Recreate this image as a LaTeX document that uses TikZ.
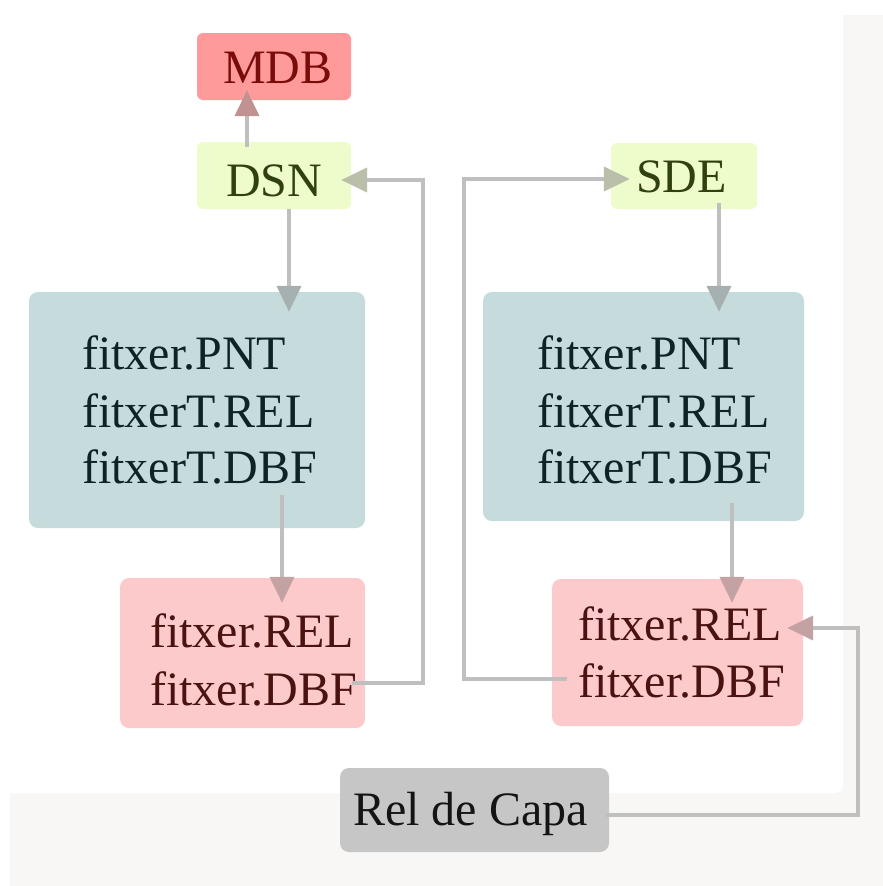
\documentclass[tikz,border=0pt]{standalone}
\usepackage{fontspec}
\setmainfont{Liberation Serif}
\usetikzlibrary{arrows.meta}
\definecolor{bgband}{HTML}{F9F6F6}
\definecolor{mdbfill}{HTML}{FF9A9A}
\definecolor{mdbtext}{HTML}{7A0B0B}
\definecolor{grnfill}{HTML}{EEFCCB}
\definecolor{grntext}{HTML}{2F420E}
\definecolor{tealfill}{HTML}{C6DBDB}
\definecolor{tealtext}{HTML}{0E2424}
\definecolor{pinkfill}{HTML}{FDCACB}
\definecolor{pinktext}{HTML}{4B1212}
\definecolor{relfill}{HTML}{C7C6C6}
\definecolor{reltext}{HTML}{141414}
\definecolor{lineclr}{HTML}{BFBFBF}
\definecolor{tipwhite}{HTML}{C0C0C0}
\definecolor{tipred}{HTML}{C09292}
\definecolor{tipteal}{HTML}{A6B0B0}
\definecolor{tippink}{HTML}{C4A2A4}
\definecolor{tipgreen}{HTML}{B9BFA8}
\begin{document}
\begin{tikzpicture}[x=1pt,y=-1pt,
  box/.style={rectangle, inner sep=0pt, draw=none},
  smallbox/.style={box, rounded corners=6pt},
  bigbox/.style={box, rounded corners=9pt},
  txt/.style={anchor=base west, inner sep=0pt, font=\fontsize{48}{57}\selectfont},
  conn/.style={draw=lineclr, line width=4pt, line join=miter},
  tipw/.style={-{Triangle[length=26pt,width=24pt,color=#1]}},
]
\useasboundingbox (0,0) rectangle (883,886);
\fill[white] (0,0) rectangle (883,886);
\fill[bgband] (10,15) rectangle (883,886);
\fill[white, rounded corners=8pt] (-20,-20) rectangle (843,793);

% boxes
\node[smallbox, fill=mdbfill, minimum width=154pt, minimum height=67pt] (mdb) at (274,66.5) {};
\node[smallbox, fill=grnfill, minimum width=154pt, minimum height=67pt] (dsn) at (274,175.5) {};
\node[smallbox, fill=grnfill, minimum width=146pt, minimum height=66pt] (sde) at (684,176) {};
\node[bigbox, fill=tealfill, minimum width=336pt, minimum height=236pt] (lteal) at (197,410) {};
\node[bigbox, fill=tealfill, minimum width=321pt, minimum height=229pt] (rteal) at (643.5,406.5) {};
\node[bigbox, fill=pinkfill, minimum width=245pt, minimum height=150pt] (lpink) at (242.5,653) {};
\node[bigbox, fill=pinkfill, minimum width=251pt, minimum height=147pt] (rpink) at (677.5,652.5) {};
\node[bigbox, fill=relfill, minimum width=269pt, minimum height=84pt] (rel) at (474.5,810) {};

% texts
\node[txt, text=mdbtext] (tmdb) at (223,83) {MDB};
\node[txt, text=grntext] (tdsn) at (226,196) {DSN};
\node[txt, text=grntext] (tsde) at (636,192) {SDE};
\node[txt, text=tealtext] (tl1) at (82,369) {fitxer.PNT};
\node[txt, text=tealtext] (tl2) at (82,427) {fitxerT.REL};
\node[txt, text=tealtext] (tl3) at (82,483) {fitxerT.DBF};
\node[txt, text=tealtext] (tr1) at (537,369) {fitxer.PNT};
\node[txt, text=tealtext] (tr2) at (537,427) {fitxerT.REL};
\node[txt, text=tealtext] (tr3) at (537,483) {fitxerT.DBF};
\node[txt, text=pinktext] (tp1) at (150,647) {fitxer.REL};
\node[txt, text=pinktext] (tp2) at (150,705) {fitxer.DBF};
\node[txt, text=pinktext] (tq1) at (578,640) {fitxer.REL};
\node[txt, text=pinktext] (tq2) at (578,697) {fitxer.DBF};
\node[txt, text=reltext] (trel) at (353,825) {Rel de Capa};

% connectors
\draw[conn, tipw=tipred] ([shift={(-27,5)}]dsn.north) -- ([shift={(-27,-10)}]mdb.south);
\draw[conn, tipw=tipteal] ([shift={(15,0)}]dsn.south) -- ([shift={(92,20)}]lteal.north);
\draw[conn, tipw=tippink] ([shift={(85,-33)}]lteal.south) -- ([shift={(39.5,25)}]lpink.north);
\draw[conn, tipw=tipgreen] ([shift={(-13,30)}]lpink.east) -- ++(71,0) |- ([shift={(-10,4.5)}]dsn.east);
\draw[conn, tipw=tipgreen] ([shift={(15,26.5)}]rpink.west) -- ++(-103,0) |- ([shift={(19,3)}]sde.west);
\draw[conn, tipw=tipteal] ([shift={(35,-6)}]sde.south) -- ([shift={(75.5,20)}]rteal.north);
\draw[conn, tipw=tippink] ([shift={(88.5,-18)}]rteal.south) -- ([shift={(54.5,24)}]rpink.north);
\draw[conn, tipw=tippink] ([shift={(-4,5)}]rel.east) -- ++(253,0) |- ([shift={(-16,-24.5)}]rpink.east);
\end{tikzpicture}
\end{document}
